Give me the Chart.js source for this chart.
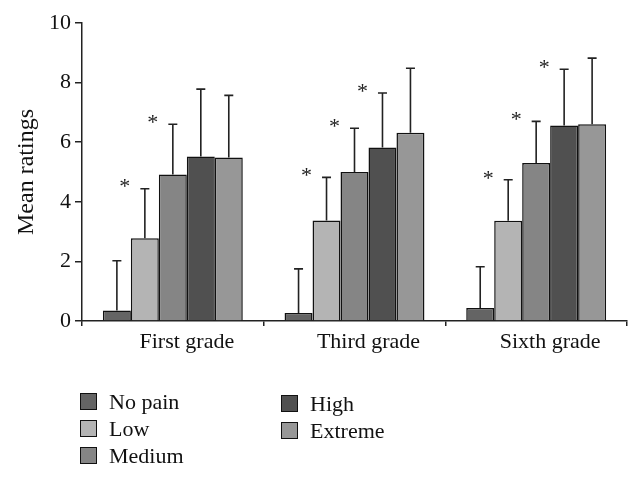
<!DOCTYPE html>
<html>
<head>
<meta charset="utf-8">
<script src="https://cdn.jsdelivr.net/npm/chart.js@4.4.1/dist/chart.umd.min.js"></script>
<style>
  body { margin: 0; background: #fff; }
  #wrap { position: relative; width: 642px; height: 478px; }
  #legend { position: absolute; left: 0; top: 0; font-family: "Liberation Serif", serif; font-size: 22px; color: #111; }
  .item { position: absolute; white-space: nowrap; line-height: 24px; }
  .box { display: inline-block; width: 15px; height: 15px; border: 1.5px solid #111; vertical-align: -1px; margin-right: 12px; }
</style>
</head>
<body>
<div id="wrap">
  <canvas id="painChart" width="642" height="478"></canvas>
  <div id="legend"></div>
</div>
<script>
const grades = ['First grade', 'Third grade', 'Sixth grade'];
const levels = ['No pain', 'Low', 'Medium', 'High', 'Extreme'];
const colors = ['#646464', '#b4b4b4', '#858585', '#505050', '#979797'];

// mean ratings per pain level, one value per grade
const noPain  = [0.35, 0.27, 0.44];
const low     = [2.78, 3.37, 3.36];
const medium  = [4.92, 5.00, 5.30];
const high    = [5.52, 5.82, 6.56];
const extreme = [5.49, 6.32, 6.60];

// top of each error bar (mean + SD)
const noPainErr  = [2.02, 1.75, 1.82];
const lowErr     = [4.44, 4.82, 4.74];
const mediumErr  = [6.60, 6.47, 6.70];
const highErr    = [7.78, 7.65, 8.45];
const extremeErr = [7.57, 8.48, 8.82];

// significance marks
const noPainStar  = [false, false, false];
const lowStar     = [true, true, true];
const mediumStar  = [true, true, true];
const highStar    = [false, true, true];
const extremeStar = [false, false, false];

const yTicks = [0, 2, 4, 6, 8, 10];

const means = [noPain, low, medium, high, extreme];
const errs = [noPainErr, lowErr, mediumErr, highErr, extremeErr];
const stars = [noPainStar, lowStar, mediumStar, highStar, extremeStar];

const errorBars = {
    id: 'errorBars',
    afterDatasetsDraw(chart) {
        const ctx = chart.ctx;
        const y = chart.scales.y;
        ctx.save();
        ctx.strokeStyle = '#222';
        ctx.lineWidth = 1.6;
        chart.data.datasets.forEach((ds, i) => {
            const meta = chart.getDatasetMeta(i);
            meta.data.forEach((bar, j) => {
                const top = y.getPixelForValue(errs[i][j]);
                ctx.beginPath();
                ctx.moveTo(bar.x, bar.y);
                ctx.lineTo(bar.x, top);
                ctx.moveTo(bar.x - 4.5, top);
                ctx.lineTo(bar.x + 4.5, top);
                ctx.stroke();
                if (stars[i][j]) {
                    ctx.fillStyle = '#222';
                    ctx.font = '22px "Liberation Serif", serif';
                    ctx.textAlign = 'center';
                    ctx.textBaseline = 'middle';
                    ctx.fillText('*', bar.x - 20, top - 1);
                }
            });
        });
        ctx.restore();
    }
};

const ctx = document.getElementById('painChart').getContext('2d');
const painChart = new Chart(ctx, {
    type: 'bar',
    data: {
        labels: grades,
        datasets: levels.map((name, i) => ({
            label: name,
            data: means[i],
            backgroundColor: colors[i],
            borderColor: '#111',
            borderWidth: 1.5,
            categoryPercentage: 0.77,
            barPercentage: 1.0
        }))
    },
    options: {
        responsive: false,
        animation: false,
        layout: { padding: { top: 23, right: 15, left: 0, bottom: 0 } },
        plugins: {
            legend: { display: false },
            tooltip: { enabled: false }
        },
        scales: {
            x: {
                afterFit: (scale) => { scale.height = 157; },
                border: { color: '#222', width: 1.5 },
                grid: { offset: true, drawOnChartArea: false, tickLength: 5, color: '#222', lineWidth: 1.5 },
                ticks: { color: '#111', padding: 3, labelOffset: 14, font: { family: 'Liberation Serif', size: 22 } }
            },
            y: {
                min: 0,
                max: 10,
                afterFit: (scale) => { scale.width = 82; },
                afterBuildTicks: (scale) => { scale.ticks = yTicks.map(v => ({ value: v })); },
                border: { color: '#222', width: 1.5 },
                grid: { drawOnChartArea: false, tickLength: 7, color: '#222', lineWidth: 1.5 },
                ticks: { color: '#111', padding: 4, font: { family: 'Liberation Serif', size: 22 } },
                title: { display: true, text: 'Mean ratings', color: '#111', padding: { top: 12, bottom: 0 }, font: { family: 'Liberation Serif', size: 24 } }
            }
        }
    },
    plugins: [errorBars]
});

// legend in two columns
const legendPos = [[80, 390], [80, 417], [80, 444], [281, 392], [281, 419]];
const legend = document.getElementById('legend');
levels.forEach((name, i) => {
    const el = document.createElement('div');
    el.className = 'item';
    el.style.left = legendPos[i][0] + 'px';
    el.style.top = legendPos[i][1] + 'px';
    el.innerHTML = '<span class="box" style="background:' + colors[i] + '"></span>' + name;
    legend.appendChild(el);
});
</script>
</body>
</html>
